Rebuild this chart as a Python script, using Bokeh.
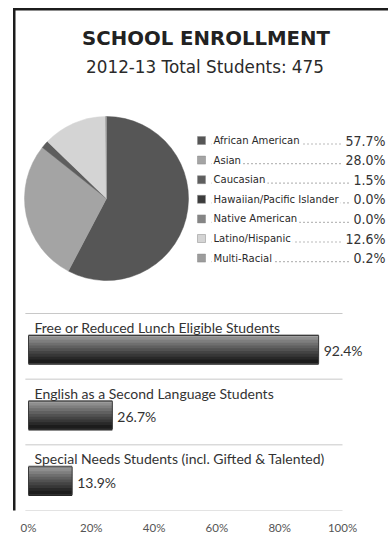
import numpy as np
from bokeh.plotting import figure
from bokeh.models import Range1d, FixedTicker, BoxAnnotation, ColumnDataSource
from bokeh.core.properties import value
from bokeh.embed import file_html
from bokeh.resources import INLINE

# ---------------- data ----------------
title_text = "SCHOOL ENROLLMENT"
subtitle_text = "2012-13 Total Students: 475"

groups = ["African American", "Asian", "Caucasian", "Hawaiian/Pacific Islander",
          "Native American", "Latino/Hispanic", "Multi-Racial"]
shares = [57.7, 28.0, 1.5, 0.0, 0.0, 12.6, 0.2]
slice_colors = ["#565656", "#a4a4a4", "#5e5e5e", "#3c3c3c", "#858585", "#d4d4d4", "#9c9c9c"]

measures = ["Free or Reduced Lunch Eligible Students",
            "English as a Second Language Students",
            "Special Needs Students (incl. Gifted & Talented)"]
rates = [92.4, 26.7, 13.9]

tick_values = [0, 20, 40, 60, 80, 100]
tick_labels = ["0%", "20%", "40%", "60%", "80%", "100%"]

# ---------------- geometry ----------------
W, H = 388, 543
FRAME_BOTTOM = 510
BOTTOM = H - FRAME_BOTTOM
PX_PER = 3.14          # pixels per percent
X0 = 28                # px of 0%
BAND_TOP = 313
BAND = (FRAME_BOTTOM - BAND_TOP) / len(measures)
NARROW = value("Liberation Sans Narrow, DejaVu Sans Condensed, Roboto Condensed, Roboto, sans-serif")

p = figure(width=W, height=H, output_backend="svg", toolbar_location=None,
           x_range=Range1d(-X0 / PX_PER, (W - X0) / PX_PER),
           y_range=Range1d(start=len(measures), end=-BAND_TOP / BAND),
           y_axis_location=None,
           min_border_left=0, min_border_right=0, min_border_top=0,
           min_border_bottom=BOTTOM,
           background_fill_color="white", border_fill_color="white",
           outline_line_color=None)
p.extra_x_ranges = {"px": Range1d(0, W)}
p.extra_y_ranges = {"py": Range1d(H - FRAME_BOTTOM, H)}
p.grid.visible = False

ax = p.xaxis[0]
ax.ticker = FixedTicker(ticks=tick_values)
ax.major_label_overrides = {v: l for v, l in zip(tick_values, tick_labels)}
ax.axis_line_color = None
ax.major_tick_line_color = None
ax.minor_tick_line_color = None
ax.major_tick_out = 0
ax.major_label_standoff = 10
ax.major_label_text_font = "Lato"
ax.major_label_text_font_size = "11.5px"
ax.major_label_text_color = "#555555"

def PY(page_y):
    return H - page_y

# ---------------- frame border ----------------
p.add_layout(BoxAnnotation(left=12.5, right=15, bottom=-60, top=FRAME_BOTTOM - 7.5,
                           left_units="screen", right_units="screen",
                           bottom_units="screen", top_units="screen",
                           fill_color="#1c1c1c", fill_alpha=1, line_color=None))
p.add_layout(BoxAnnotation(left=12.5, right=W + 10, bottom=FRAME_BOTTOM - 10,
                           top=FRAME_BOTTOM - 7.5,
                           left_units="screen", right_units="screen",
                           bottom_units="screen", top_units="screen",
                           fill_color="#1c1c1c", fill_alpha=1, line_color=None))

# ---------------- titles ----------------
p.text(x=[205.5], y=[PY(38)], text=[title_text], text_font=value("DejaVu Sans"),
       text_font_style="bold", text_font_size="19.7px", text_color="#222222",
       text_align="center", text_baseline="middle", x_range_name="px", y_range_name="py")
p.text(x=[204.5], y=[PY(66)], text=[subtitle_text], text_font=value("DejaVu Sans"),
       text_font_size="16.8px", text_color="#2a2a2a",
       text_align="center", text_baseline="middle", x_range_name="px", y_range_name="py")

# ---------------- pie ----------------
fr = np.array(shares) / sum(shares)
cum = np.concatenate([[0.0], np.cumsum(fr)])
keep = fr > 0
starts = np.pi / 2 - 2 * np.pi * cum[:-1]
ends = np.pi / 2 - 2 * np.pi * cum[1:]
pie_src = ColumnDataSource(dict(
    x=[106] * int(keep.sum()), y=[PY(198)] * int(keep.sum()),
    start=starts[keep], end=ends[keep],
    color=[c for c, k in zip(slice_colors, keep) if k]))
p.wedge(x="x", y="y", radius=82, radius_units="screen", start_angle="start",
        end_angle="end", direction="clock", fill_color="color", line_color="color",
        line_width=0.5, source=pie_src, x_range_name="px", y_range_name="py")

# ---------------- legend ----------------
row_y = [PY(140 + 19.6 * i) for i in range(len(groups))]
leg = ColumnDataSource(dict(
    y=row_y, yb=[v - 3.5 for v in row_y], name=groups,
    pct=[f"{s:.1f}%" for s in shares], color=slice_colors,
    x0=[211] * len(groups), x1=[384] * len(groups), xs=[201] * len(groups),
    xp=[388] * len(groups)))
p.segment(x0="x0", y0="yb", x1="x1", y1="yb", line_color="#777777", line_width=1.2,
          line_dash="1 3", source=leg, x_range_name="px", y_range_name="py")
p.scatter(x="xs", y="y", marker="square", size=8, fill_color="color",
          line_color="#888888", line_width=0.5, source=leg,
          x_range_name="px", y_range_name="py")
p.text(x="x0", y="y", text="name", text_font=NARROW,
       text_font_size="11.2px", text_color="#2a2a2a", text_baseline="middle",
       background_fill_color="white", padding=2,
       source=leg, x_range_name="px", y_range_name="py")
p.text(x="xp", y="y", text="pct", text_font=NARROW,
       text_font_size="14px", text_color="#333333", text_baseline="middle",
       text_align="right", background_fill_color="white", padding=3,
       source=leg, x_range_name="px", y_range_name="py")

# ---------------- bars ----------------
idx = list(range(len(measures)))
BAR_TOP = 22 / BAND
BAR_H = 28 / BAND
LABEL_Y = 14 / BAND

# separators
sep_y = list(range(len(measures) + 1))
p.segment(x0=[-1] * len(sep_y), y0=sep_y, x1=[100] * len(sep_y), y1=sep_y,
          line_color="#c8c8c8", line_width=1)

# gradient strips
N = 10
c_top = np.array([0xa0, 0xa0, 0xa0])
c_bot = np.array([0x1c, 0x1c, 0x1c])
for k in range(N):
    t = k / (N - 1)
    col = c_top + (c_bot - c_top) * (t ** 0.9)
    hexc = "#%02x%02x%02x" % tuple(int(round(v)) for v in col)
    p.hbar(y=[i + BAR_TOP + (k + 0.5) * BAR_H / N for i in idx], left=0, right=rates,
           height=BAR_H / N * 1.9, fill_color=hexc, line_color=None)
p.hbar(y=[i + BAR_TOP + BAR_H / 2 for i in idx], left=0, right=rates, height=BAR_H,
       fill_color=None, line_color="#3a3a3a", line_width=1)

p.text(x=[0] * len(idx), y=[i + LABEL_Y for i in idx], text=measures, x_offset=6,
       text_font=value("Lato"), text_font_size="14px", text_color="#333333",
       text_baseline="middle")
p.text(x=rates, y=[i + BAR_TOP + BAR_H / 2 + 0.02 for i in idx],
       text=[f"{r:.1f}%" for r in rates], x_offset=5,
       text_font=value("Lato"), text_font_size="14px", text_color="#333333",
       text_baseline="middle")

open("out.html", "w").write(file_html(p, INLINE))
